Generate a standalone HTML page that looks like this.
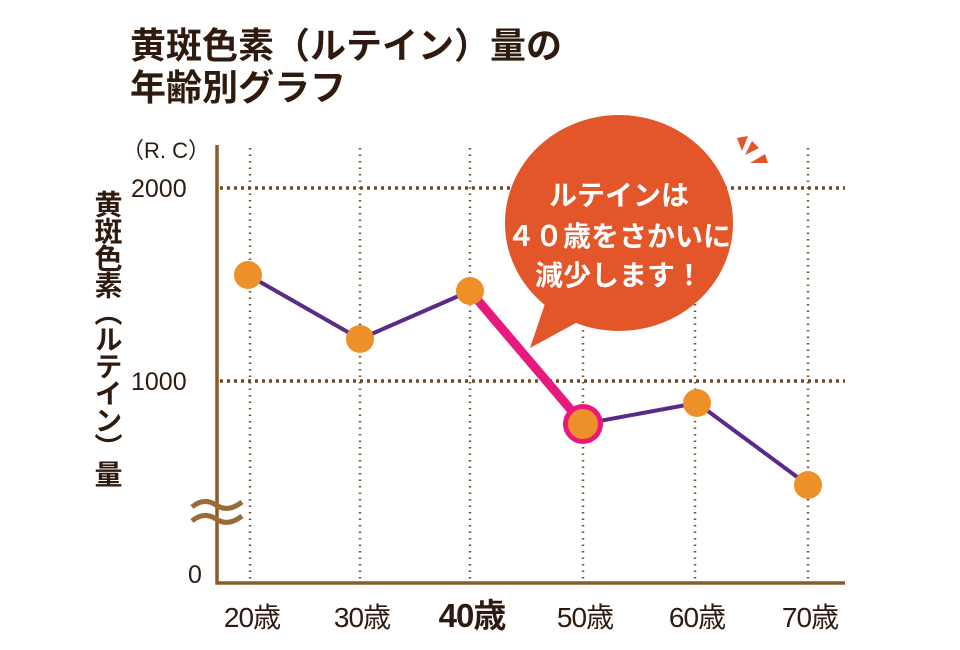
<!DOCTYPE html>
<html><head><meta charset="utf-8"><style>
html,body{margin:0;padding:0;background:#fff}
svg{display:block}
text{font-family:"Liberation Sans","Noto Sans CJK JP",sans-serif}
</style></head><body>
<svg width="960" height="650" viewBox="0 0 960 650" xmlns="http://www.w3.org/2000/svg">
<text x="130" y="58" font-size="36" font-weight="bold" fill="#2e1a0e">黄斑色素（ルテイン）量の</text>
<text x="130" y="100" font-size="36" font-weight="bold" fill="#2e1a0e">年齢別グラフ</text>
<text x="122" y="158" font-size="22" fill="#2e1a0e">（R. C）</text>
<text x="131" y="197" font-size="25" fill="#2e1a0e">2000</text>
<text x="131" y="390" font-size="25" fill="#2e1a0e">1000</text>
<text x="188" y="583" font-size="25" fill="#2e1a0e">0</text>
<text font-size="28" font-weight="bold" fill="#2e1a0e" x="107" y="190" letter-spacing="-1" style="writing-mode:vertical-rl">黄斑色素（ルテイン）量</text>
<g stroke="#7a5530" stroke-width="2.5" stroke-dasharray="1.5 5" fill="none">
<line x1="250" y1="148" x2="250" y2="582"/>
<line x1="360" y1="148" x2="360" y2="582"/>
<line x1="470" y1="148" x2="470" y2="582"/>
<line x1="583" y1="148" x2="583" y2="582"/>
<line x1="695" y1="148" x2="695" y2="582"/>
<line x1="808" y1="148" x2="808" y2="582"/>
</g>
<g stroke="#6b4a2a" stroke-width="3.5" stroke-dasharray="3 4" fill="none">
<line x1="220" y1="188" x2="845" y2="188"/>
<line x1="220" y1="381" x2="845" y2="381"/>
</g>
<path d="M217 145 V583 H845" stroke="#8a5a2b" stroke-width="3.5" fill="none"/>
<g stroke="#9a6a38" stroke-width="5" fill="none">
<path d="M192 507 q12 -10 24 -2 t26 -3"/>
<path d="M192 521 q12 -10 24 -2 t26 -3"/>
</g>
<polyline points="248,275 360,339 470,291" stroke="#5a2a88" stroke-width="4" fill="none"/>
<polyline points="583,424 697,403 808,485" stroke="#5a2a88" stroke-width="4" fill="none"/>
<line x1="470" y1="291" x2="583" y2="424" stroke="#e8197d" stroke-width="9"/>
<circle cx="583" cy="424" r="20" fill="#e8197d"/>
<g fill="#ee9028">
<circle cx="248" cy="275" r="14"/><circle cx="360" cy="339" r="14"/><circle cx="470" cy="291" r="14"/>
<circle cx="583" cy="424" r="15"/><circle cx="697" cy="403" r="14"/><circle cx="808" cy="485" r="14"/>
</g>
<ellipse cx="619" cy="223" rx="114" ry="108" fill="#e2562a"/>
<polygon points="548,295 530,348 585,318" fill="#e2562a"/>
<g fill="#e2562a">
<polygon points="737,138 748,136 742,151"/>
<polygon points="752,141 759,148 745,155"/>
<polygon points="765,154 768,163 750,163"/>
</g>
<g font-size="28" font-weight="bold" fill="#fff" text-anchor="middle">
<text x="619" y="205">ルテインは</text>
<text x="619" y="246">４０歳をさかいに</text>
<text x="619" y="285">減少します！</text>
</g>
<g font-size="28" fill="#2e1a0e" text-anchor="middle">
<text x="252" y="627" letter-spacing="-1">20歳</text>
<text x="362" y="627" letter-spacing="-1">30歳</text>
<text x="472" y="627" font-size="33" font-weight="bold" letter-spacing="-1">40歳</text>
<text x="585" y="627" letter-spacing="-1">50歳</text>
<text x="697" y="627" letter-spacing="-1">60歳</text>
<text x="810" y="627" letter-spacing="-1">70歳</text>
</g>
</svg>
</body></html>
